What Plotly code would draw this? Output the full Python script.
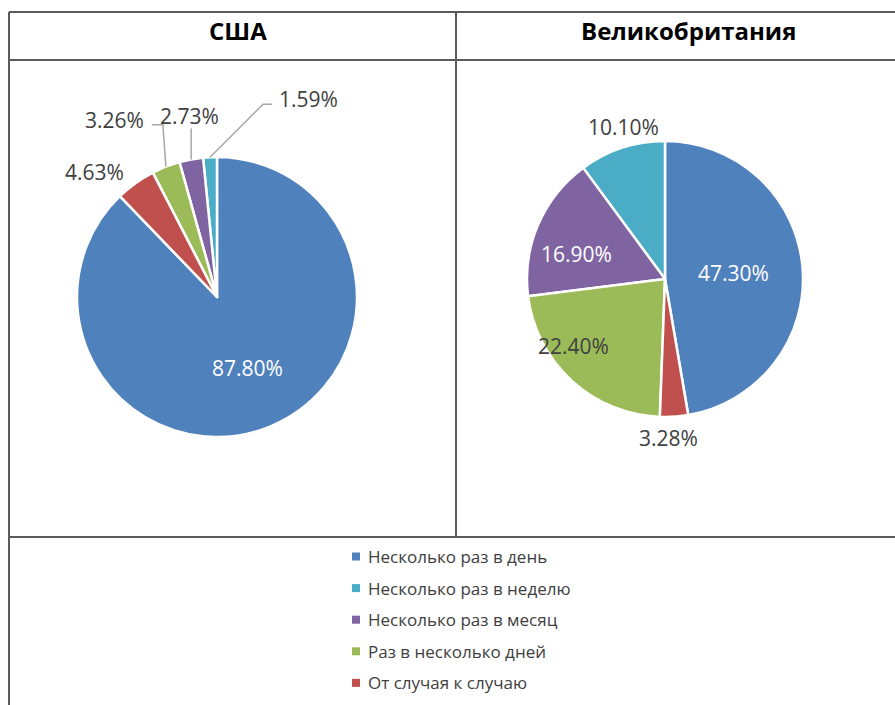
import math
import plotly.graph_objects as go

# ---- data ----
categories = ["Несколько раз в день", "Несколько раз в неделю", "Несколько раз в месяц",
              "Раз в несколько дней", "От случая к случаю"]
usa_values = [87.80, 1.59, 2.73, 3.26, 4.63]
uk_values = [47.30, 10.10, 16.90, 22.40, 3.28]
titles = ["США", "Великобритания"]

# ---- style ----
colors = ["#4F81BD", "#4BACC6", "#8064A2", "#9BBB59", "#C0504D"]
W, H = 895, 705
FONT = "Open Sans"
GRAY = "#404040"
LINE = "#5a5a5a"


def px(x):
    return x / W


def py(y):
    return 1 - y / H


def mid_angles(values):
    total = sum(values)
    angs = [values[0] / total * 180.0]
    cum = 0.0
    for v in values[1:]:
        angs.append(-(cum + v / 2.0) / total * 360.0)
        cum += v
    return angs


pies = [
    dict(values=usa_values, title=titles[0], cx=217, cy=297, r=140, tx=238,
         f=[0.55, 1, 1, 1, 1],
         nudge=[(2, 0), (98, -58), (-2, -43), (-51, -47), (-41, -11)],
         tcol=["white", GRAY, GRAY, GRAY, GRAY],
         leaders=[None, [(-36, 5), (-45, 5)], [(2, 12)], [(37, 5), (48, 5)], None]),
    dict(values=uk_values, title=titles[1], cx=665, cy=279, r=138, tx=688,
         f=[0.5, 1.14, 0.67, 0.75, 1.15],
         nudge=[(0, 0), (8, -3), (-4, 11), (-22, -9), (-7, 1)],
         tcol=["white", GRAY, "white", GRAY, GRAY],
         leaders=[None] * 5),
]

fig = go.Figure()
annotations = []
shapes = []

for p in pies:
    fig.add_trace(go.Pie(
        labels=categories, values=p["values"], sort=False,
        direction="counterclockwise", rotation=0,
        marker=dict(colors=colors, line=dict(color="white", width=2.5)),
        textinfo="none", showlegend=False, hoverinfo="label+percent",
        domain=dict(x=[px(p["cx"] - p["r"]), px(p["cx"] + p["r"])],
                    y=[py(p["cy"] + p["r"]), py(p["cy"] - p["r"])]),
    ))
    angs = mid_angles(p["values"])
    for i, v in enumerate(p["values"]):
        a = math.radians(angs[i])
        lx = p["cx"] + p["f"][i] * p["r"] * math.sin(a) + p["nudge"][i][0]
        ly = p["cy"] - p["f"][i] * p["r"] * math.cos(a) + p["nudge"][i][1]
        annotations.append(dict(
            x=px(lx), y=py(ly), xref="paper", yref="paper", showarrow=False,
            text=f"{v:.2f}%", font=dict(family=FONT, size=21, color=p["tcol"][i]),
            xanchor="center", yanchor="middle"))
        if p["leaders"][i]:
            rx = p["cx"] + p["r"] * math.sin(a)
            ry = p["cy"] - p["r"] * math.cos(a)
            pts = [(lx + dx, ly + dy) for dx, dy in p["leaders"][i]] + [(rx, ry)]
            path = "M " + " L ".join(f"{px(x):.5f},{py(y):.5f}" for x, y in pts)
            shapes.append(dict(type="path", path=path, xref="paper", yref="paper",
                               line=dict(color="#a6a6a6", width=1.5)))
    annotations.append(dict(
        x=px(p["tx"]), y=py(31), xref="paper", yref="paper", showarrow=False,
        text=f"<b>{p['title']}</b>", font=dict(family=FONT, size=24, color="#000000"),
        xanchor="center", yanchor="middle"))

# ---- table grid ----
grid = [((9, 12), (W, 12)), ((9, 60), (W, 60)), ((9, 537), (W, 537)),
        ((9, 12), (9, H)), ((456, 12), (456, 537))]
for (x0, y0), (x1, y1) in grid:
    shapes.append(dict(type="line", xref="paper", yref="paper",
                       x0=px(x0), y0=py(y0), x1=px(x1), y1=py(y1),
                       line=dict(color=LINE, width=2)))

# ---- legend (manual, to match row spacing) ----
for i, (cat, col) in enumerate(zip(categories, colors)):
    yc = 556.5 + i * 31.6
    shapes.append(dict(type="rect", xref="paper", yref="paper",
                       x0=px(352), x1=px(360), y0=py(yc + 4), y1=py(yc - 4),
                       fillcolor=col, line=dict(width=0)))
    annotations.append(dict(
        x=px(366), y=py(yc), xref="paper", yref="paper", showarrow=False,
        text=cat, font=dict(family=FONT, size=17, color=GRAY),
        xanchor="left", yanchor="middle"))

fig.update_layout(
    width=W, height=H, margin=dict(l=0, r=0, t=0, b=0),
    paper_bgcolor="white", plot_bgcolor="white",
    annotations=annotations, shapes=shapes, showlegend=False,
)

fig.write_html("out.html", config={"displayModeBar": False},
               post_script="document.body.style.margin='0px';")
